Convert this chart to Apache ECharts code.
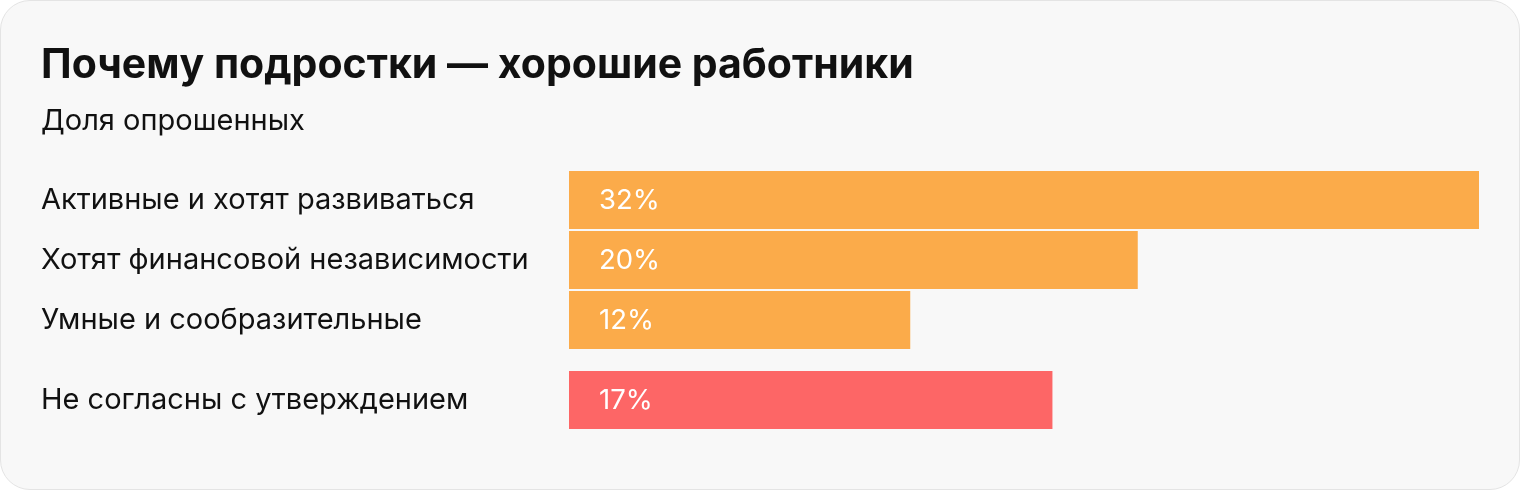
<!DOCTYPE html>
<html>
<head>
<meta charset="utf-8">
<script src="https://cdn.jsdelivr.net/npm/echarts@6/dist/echarts.min.js"></script>
<style>
html,body{margin:0;padding:0;background:#ffffff;}
#card{position:absolute;left:0;top:0;width:1518px;height:488px;border:1px solid #e4e4e4;border-radius:30px;background:#f8f8f8;overflow:hidden;}
#chart{width:1518px;height:488px;}
</style>
</head>
<body>
<div id="card"><div id="chart"></div></div>
<script>
const titleText = 'Почему подростки — хорошие работники';
const subtitleText = 'Доля опрошенных';
const categoriesMain = ['Активные и хотят развиваться', 'Хотят финансовой независимости', 'Умные и сообразительные'];
const valuesMain = [32, 20, 12];
const categoriesOther = ['Не согласны с утверждением'];
const valuesOther = [17];
const axisMax = 32;

const font = 'Inter';
const chart = echarts.init(document.getElementById('chart'), null, {renderer: 'canvas'});
const yAxisCommon = {
  type: 'category', inverse: true,
  axisLine: {show: false}, axisTick: {show: false}, splitLine: {show: false},
  axisLabel: {align: 'left', margin: 528, fontSize: 29, color: '#111111', fontFamily: font}
};
const labelCommon = {show: true, position: 'insideLeft', distance: 30, offset: [0, 1], formatter: '{c}%', color: '#ffffff', fontSize: 27.5, fontFamily: font};
chart.setOption({
  backgroundColor: 'transparent',
  animation: false,
  title: [
    {text: titleText, left: 35, top: 39, textStyle: {fontSize: 41, fontWeight: 'bold', color: '#111111', fontFamily: font}},
    {text: subtitleText, left: 35, top: 101, textStyle: {fontSize: 29, fontWeight: 'normal', color: '#111111', fontFamily: font}}
  ],
  grid: [
    {left: 568, top: 169, width: 910, height: 180},
    {left: 568, top: 369, width: 910, height: 60}
  ],
  xAxis: [
    {type: 'value', gridIndex: 0, min: 0, max: axisMax, show: false},
    {type: 'value', gridIndex: 1, min: 0, max: axisMax, show: false}
  ],
  yAxis: [
    Object.assign({gridIndex: 0, data: categoriesMain}, yAxisCommon),
    Object.assign({gridIndex: 1, data: categoriesOther}, yAxisCommon)
  ],
  series: [
    {type: 'bar', xAxisIndex: 0, yAxisIndex: 0, data: valuesMain, barWidth: 58, itemStyle: {color: '#fbab4a'}, label: labelCommon},
    {type: 'bar', xAxisIndex: 1, yAxisIndex: 1, data: valuesOther, barWidth: 58, itemStyle: {color: '#fd6666'}, label: labelCommon}
  ]
});
</script>
</body>
</html>
